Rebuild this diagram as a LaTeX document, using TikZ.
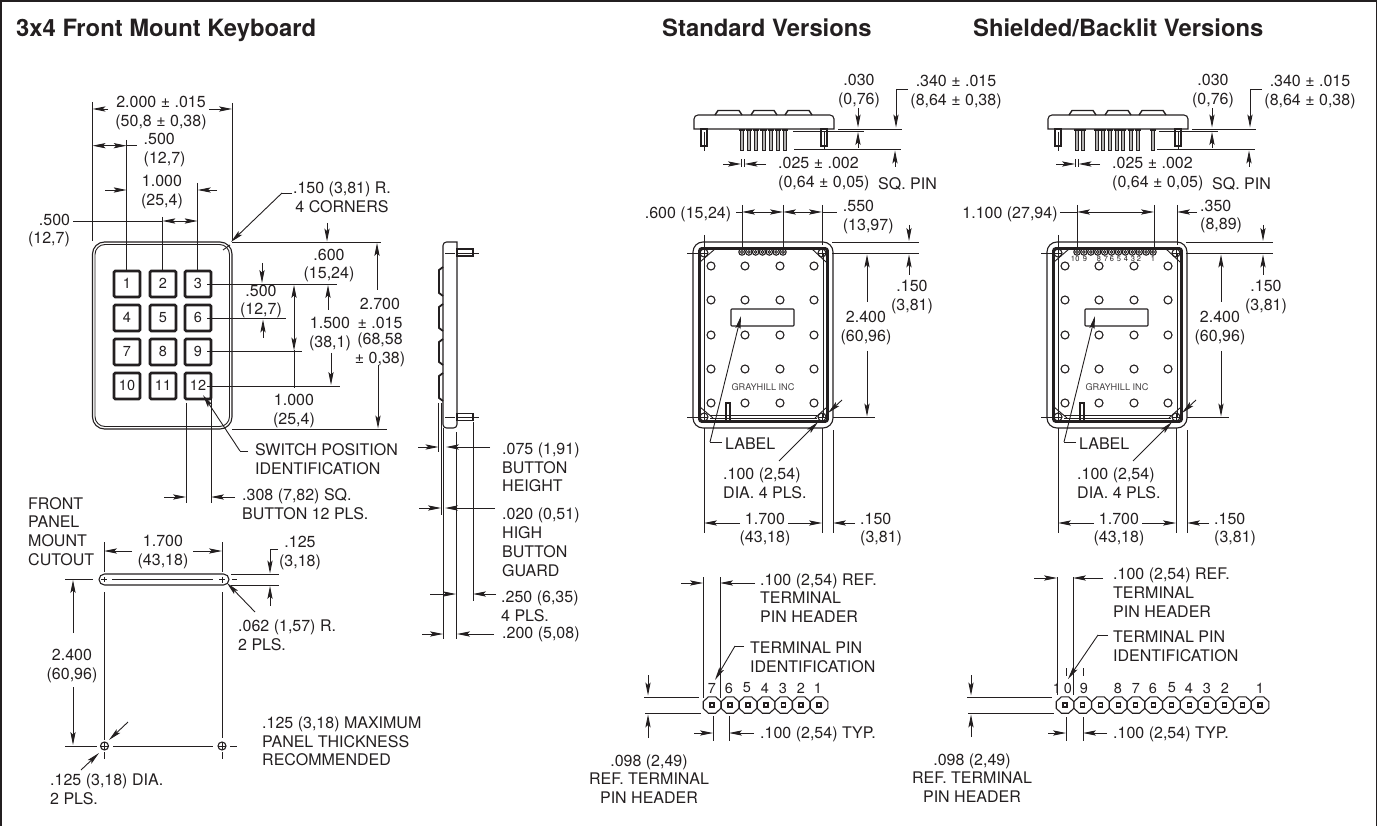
\documentclass[tikz,border=0pt]{standalone}
\usepackage{fontspec}
\setmainfont{TeX Gyre Heros}
\usetikzlibrary{arrows.meta}
\definecolor{inkblack}{HTML}{231F20}
\tikzset{
  dimtext/.style={font=\fontsize{16}{18.8}\selectfont, align=center, inner sep=0pt, text=inkblack, yshift=-1.5pt},
  dimleft/.style={dimtext, align=left, anchor=west},
  digit/.style={font=\fontsize{14.5}{16}\selectfont, inner sep=0pt, text=inkblack},
  headline/.style={font=\fontsize{23.8}{26}\bfseries, anchor=base west, inner sep=0pt, text=inkblack},
  extline/.style={line width=.9pt, draw=inkblack},
  dimarrow/.style={extline, -{Stealth[length=13pt,width=5.2pt,inset=2.5pt]}},
  dimboth/.style={extline, {Stealth[length=13pt,width=5.2pt,inset=2.5pt]}-{Stealth[length=13pt,width=5.2pt,inset=2.5pt]}},
  panelline/.style={line width=1.1pt, draw=inkblack},
  thickline/.style={line width=2.6pt, draw=inkblack}
}
\begin{document}
\begin{tikzpicture}[x=1pt,y=-1pt]
  \useasboundingbox (0,0) rectangle (1377,826);
  %----- helpers -----
  \def\keycap#1#2#3{ % (left, top, number)
    \draw[thickline,rounded corners=1.2pt] (#1,#2) rectangle ++(26,26);
    \node[digit] (key#3) at (#1+13,#2+12.5) {#3};
  }
  \def\screw#1#2{ % corner screw with cross
    \draw[panelline] (#1,#2) circle (4);
    \draw[extline] (#1-4,#2) -- (#1+4,#2) (#1,#2-4) -- (#1,#2+4);
  }
  \def\pinpad#1{ % octagon pad with square pin
    \draw[panelline] (#1-3.6,696.8) -- (#1+3.6,696.8) -- (#1+8.8,701.6) -- (#1+8.8,708.4)
      -- (#1+3.6,713.2) -- (#1-3.6,713.2) -- (#1-8.8,708.4) -- (#1-8.8,701.6) -- cycle;
    \draw[panelline] (#1-2,703) rectangle (#1+2,707);
  }
  %----- edge view, same in both versions -----
  \def\topview#1{
    \draw[panelline] (694,129) [rounded corners=4pt] -- (694,115) -- (834,115) [sharp corners] -- (834,129) -- cycle;
    \foreach \a/\b in {715/742,751/777,785/812}
      \draw[line width=1.4pt,draw=inkblack] (\a,115) -- (\a+3,110.5) -- (\b-3,110.5) -- (\b,115);
    \draw[panelline] (701,129) rectangle (707,146) (821,129) rectangle (827,146);
    \draw[extline] (704,132) -- (704,151) (824,132) -- (824,150);
    \draw[extline] (838,129) -- (902,129);
    \draw[dimarrow] (858,108) -- (858,127.5);
    \draw[dimarrow] (858,148) -- (858,132);
    \draw[extline] (908,89) -- (896,89);
    \draw[dimarrow] (896,89) -- (896,127.5);
    \draw[dimarrow] (895,167) -- (895,150.5);
    \node[dimtext] (#1thin) at (859,89.5) {.030\\(0,76)};
    \node[dimtext] (#1deep) at (956,90.5) {.340 ± .015\\(8,64 ± 0,38)};
  }
  %----- rear view, same in both versions -----
  \def\backview#1{
    \draw[panelline,rounded corners=10pt] (693,242) rectangle (833,428);
    \draw[thickline,rounded corners=2pt] (699.5,248.5) rectangle (827.5,421.5);
    \draw[extline] (704,253) -- (704,417) (823,253) -- (823,417);
    \draw[extline] (710,415) -- (817,415) (710,418) -- (817,418);
    \draw[extline] (700,262) -- (715,249) (812,249) -- (826,262) (700,407) -- (713,418) (815,418) -- (827,407);
    \screw{704}{253} \screw{822}{253} \screw{704}{417} \screw{822}{417}
    \foreach \hx in {711,745,780,814}
      \foreach \hy in {266,300,335,369,403}
        \draw[panelline] (\hx,\hy) circle (4);
    \draw[panelline,rounded corners=.8pt] (731,309) rectangle (794,326);
    \draw[panelline] (726,403) rectangle (730,421);
    \node[font=\fontsize{9.2}{10}\selectfont,inner sep=0pt,text=inkblack!85] (#1brand) at (763,387) {GRAYHILL INC};
    % ticks and extension lines
    \draw[extline] (704,235) -- (704,249) (687,253) -- (699,253) (687,417) -- (700,417);
    \draw[extline] (704,428) -- (704,533) (822,428) -- (822,533) (833,430) -- (833,533);
    \draw[extline] (832,242) -- (919,242) (832,253) -- (919,253) (833,417) -- (875,417);
    \draw[dimarrow] (909,225) -- (909,241);
    \draw[dimarrow] (909,275) -- (909,254.5);
    \node[dimtext] (#1edge) at (912,295.5) {.150\\(3,81)};
    \draw[dimarrow] (867,302) -- (867,254.5);
    \draw[dimarrow] (867,351) -- (867,416.5);
    \node[dimtext] (#1high) at (866,326.5) {2.400\\(60,96)};
    % leaders
    \draw[extline] (722,442) -- (710,442);
    \draw[dimarrow] (710,442) -- (741,316);
    \node[dimleft] (#1label) at (725,442) {LABEL};
    \draw[dimarrow] (842,400) -- (828,413);
    \draw[dimarrow] (779,461) -- (818,422);
    \node[dimleft] (#1hole) at (723,482) {.100 (2,54)\\DIA. 4 PLS.};
    % lower widths
    \draw[dimarrow] (740,523) -- (704,523);
    \draw[dimarrow] (788,523) -- (822,523);
    \draw[dimarrow] (855,523) -- (833,523);
    \node[dimtext] (#1wide) at (765,528) {1.700\\(43,18)};
    \node[dimleft] (#1side) at (860,528) {.150\\(3,81)};
  }
  %----- frame and headings -----
  \draw[line width=2.4pt,draw=inkblack] (0,1) -- (1377,1) (1,0) -- (1,826);
  \draw[extline] (1376.3,0) -- (1376.3,826);
  \node[headline] (titleA) at (16,36.7) {3x4 Front Mount Keyboard};
  \node[headline] (titleB) at (662,36.7) {Standard Versions};
  \node[headline] (titleC) at (973,36.7) {Shielded/Backlit Versions};

  %----- front of keyboard -----
  \draw[panelline,rounded corners=12pt] (92.5,242) rectangle (232,429);
  \draw[extline,rounded corners=10pt] (95,244.5) rectangle (229.5,426.5);
  \keycap{114}{271}{1} \keycap{150}{271}{2} \keycap{185}{271}{3}
  \keycap{114}{305}{4} \keycap{150}{305}{5} \keycap{185}{305}{6}
  \keycap{114}{339}{7} \keycap{150}{339}{8} \keycap{185}{339}{9}
  \keycap{114}{373}{10} \keycap{150}{373}{11} \keycap{185}{373}{12}
  \draw[extline] (223,250) -- (230,245);
  % widths above
  \draw[extline] (92.5,102) -- (92.5,241) (232,103) -- (232,240);
  \draw[extline] (126.7,140) -- (126.7,271) (162.3,217) -- (162.3,271) (197.7,183) -- (197.7,271);
  \draw[dimarrow] (108,109) -- (92.5,109);
  \draw[dimarrow] (209,109) -- (232,109);
  \node[dimtext] (wdAll) at (161,111.5) {2.000 ± .015\\(50,8 ± 0,38)};
  \draw[dimboth] (92.5,145.7) -- (126.7,145.7);
  \draw[extline] (126.7,145.7) -- (137,145.7);
  \node[dimleft] (wdLeft) at (143.5,148.5) {.500\\(12,7)};
  \draw[dimarrow] (105,190) -- (126.7,190);
  \draw[dimarrow] (217,190) -- (197.7,190);
  \node[dimtext] (wdKeys) at (162,190.5) {1.000\\(25,4)};
  \draw[extline] (73,221) -- (162.3,221);
  \draw[dimboth] (162.3,221) -- (197.7,221);
  \node[dimtext] (wdPitch) at (49,229) {\hspace*{11pt}.500\\(12,7)};
  \draw[extline] (292,193) -- (282,193);
  \draw[dimarrow] (282,193) -- (231,242);
  \node[dimtext] (cornerR) at (342,195.5) {.150 (3,81) R.\\4 CORNERS};
  % heights at right
  \draw[extline] (232,242.3) -- (381,242.3) (232,429) -- (387,429);
  \draw[extline] (207,284) -- (337,284) (207,318) -- (286,318) (207,351) -- (302,351) (207,386) -- (340,386);
  \draw[dimarrow] (327,223) -- (327,241.5);
  \draw[dimarrow] (328,310) -- (328,285);
  \node[dimtext] (htTop) at (329,264) {.600\\(15,24)};
  \draw[dimarrow] (262,263) -- (262,283);
  \draw[dimarrow] (263,338) -- (263,319.5);
  \node[dimtext] (htPitch) at (261,300) {.500\\(12,7)};
  \draw[extline] (294,350) -- (294,388);
  \draw[dimarrow] (294,330) -- (294,285);
  \draw[dimarrow] (294,305) -- (294,350.5);
  \node[dimtext] (htThree) at (294,409.5) {1.000\\(25,4)};
  \draw[dimarrow] (331,353) -- (331,385);
  \node[dimtext] (htRows) at (330,332.5) {1.500\\(38,1)};
  \draw[dimarrow] (377,290) -- (377,243);
  \draw[dimarrow] (378,365) -- (378,428.5);
  \node[dimtext] (htAll) at (380,331) {2.700\\± .015\\[-2pt](68,58\\± 0,38)};
  % switch identification and button size
  \draw[extline] (248,451) -- (240,451);
  \draw[dimarrow] (240,451) -- (203,395);
  \node[dimleft] (swId) at (255,457.5) {SWITCH POSITION\\IDENTIFICATION};
  \draw[extline] (186,403) -- (186,503) (211,397) -- (211,503);
  \draw[dimarrow] (164,497) -- (186,497);
  \draw[dimarrow] (235,497) -- (211,497);
  \node[dimleft] (btnSq) at (242,502.5) {.308 (7,82) SQ.\\BUTTON 12 PLS.};

  %----- panel cutout -----
  \node[dimleft] (cutName) at (28,530) {FRONT\\PANEL\\MOUNT\\CUTOUT};
  \draw[extline] (104,542) -- (104,572) (222,542) -- (222,572);
  \draw[dimarrow] (132,551) -- (104,551);
  \draw[dimarrow] (193,551) -- (222,551);
  \node[dimtext] (cutWide) at (163,550.5) {1.700\\(43,18)};
  \draw[panelline,rounded corners=5.5pt] (99,574) rectangle (229,585);
  \draw[extline] (101,579.5) -- (107,579.5) (104,577) -- (104,582) (219,579.5) -- (225,579.5) (222,576.5) -- (222,582.5);
  \draw[extline] (112,579.5) -- (213,579.5) (232,579.5) -- (237,579.5);
  \draw[extline] (231,574) -- (279,574) (231,585) -- (279,585);
  \draw[extline] (278,549) -- (270,549);
  \draw[dimarrow] (270,549) -- (270,573.5);
  \draw[dimarrow] (270,606) -- (270,586);
  \node[dimtext] (cutSlot) at (300,551.5) {.125\\(3,18)};
  \draw[dimarrow] (255,612) -- (227,583);
  \node[dimleft] (cutRad) at (238,633.5) {.062 (1,57) R.\\2 PLS.};
  \draw[extline] (65,579) -- (93,579) (65,746) -- (97,746);
  \draw[dimarrow] (73,633) -- (73,580);
  \draw[dimarrow] (73,687) -- (73,745);
  \node[dimtext] (cutHigh) at (72,664.5) {2.400\\(60,96)};
  \draw[extline] (104.5,592) -- (104.5,740) (222,592) -- (222,738);
  \screw{104.5}{746} \screw{222}{746}
  \draw[extline] (113,746) -- (213,746) (230,746) -- (237,746) (104.5,752) -- (104.5,759) (222,752) -- (222,759);
  \draw[dimarrow] (128,722) -- (109,740);
  \draw[dimarrow] (81,770) -- (99,753);
  \node[dimleft] (cutHole) at (50,788) {.125 (3,18) DIA.\\2 PLS.};
  \node[dimleft] (cutThick) at (262,740) {.125 (3,18) MAXIMUM\\PANEL THICKNESS\\RECOMMENDED};

  %----- side view -----
  \draw[panelline] (457,242) [rounded corners=3.5pt] -- (443,242) -- (443,428) -- (457,428) [sharp corners] -- cycle;
  \foreach \a/\b in {267/296,304/331,339/365,373/401}
    \draw[line width=1.8pt,draw=inkblack] (443,\a) -- (439,\a+3) -- (439,\b-3) -- (443,\b);
  \draw[panelline] (457,249) rectangle (473,256) (457,413.5) rectangle (473,420.5);
  \draw[extline] (445,253) -- (455,253) (458,253) -- (479,253) (445,417) -- (455,417) (458,417) -- (479,417);
  \draw[extline] (438.7,403) -- (438.7,452) (441,403) -- (441,515) (443.5,428) -- (443.5,639) (456.3,432) -- (456.3,639) (473,422) -- (473,601);
  \draw[dimarrow] (418,447) -- (438.5,447);
  \draw[dimarrow] (490,447) -- (446,447);
  \draw[dimarrow] (419,508) -- (441,508);
  \draw[dimarrow] (495,508) -- (445,508);
  \draw[dimarrow] (430,594) -- (456,594);
  \draw[dimarrow] (496,594) -- (473,594);
  \draw[dimarrow] (422,634) -- (443,634);
  \draw[dimarrow] (494,634) -- (457,634);
  \node[dimleft] (sideBtn) at (502,466) {.075 (1,91)\\BUTTON\\HEIGHT};
  \node[dimleft] (sideGuard) at (502,541) {.020 (0,51)\\HIGH\\BUTTON\\GUARD};
  \node[dimleft] (sidePin) at (501,604.5) {.250 (6,35)\\4 PLS.};
  \node[dimleft] (sideBody) at (502,633) {.200 (5,08)};

  %----- standard versions -----
  \topview{std}
  \foreach \x in {742,749,756,763.5,771,778,785} {
    \draw[extline,fill=inkblack!35] (\x-1.5,129) rectangle (\x+1.5,150);
    \draw[line width=1.6pt,draw=inkblack] (\x-3.2,130) -- (\x+3.2,130);
  }
  \draw[extline] (793,131) -- (864,131) (794,149) -- (901,149);
  \draw[extline] (741,159) -- (741,167) (744,159) -- (744,167);
  \draw[dimarrow] (723,164) -- (741,164);
  \draw[dimarrow] (766,164) -- (744.5,164);
  \node[dimleft] (stdPin) at (778,172.5) {.025 ± .002\\(0,64 ± 0,05)};
  \node[dimleft] (stdSq) at (878,182) {SQ. PIN};
  \backview{std}
  \foreach \i in {0,...,6} {
    \draw[panelline] (742+6.83*\i,252) circle (3.2);
    \draw[extline] (742+6.83*\i,252) circle (1.4);
  }
  \draw[extline] (742,205) -- (742,248) (783,205) -- (783,248) (822,205) -- (822,245);
  \draw[extline] (736,212) -- (742,212) (822,212) -- (837,212);
  \draw[dimboth] (742,212) -- (783,212);
  \draw[dimboth] (783,212) -- (822,212);
  \node[dimtext] (stdPads) at (688,213) {.600 (15,24)};
  \node[dimleft] (stdOff) at (842.7,215.5) {.550\\(13,97)};
  % terminal header
  \draw[extline] (703,577) -- (703,698) (720,577) -- (720,698);
  \draw[dimarrow] (681,583) -- (703,583);
  \draw[dimarrow] (755,583) -- (720,583);
  \node[dimleft] (stdRef) at (760,596.5) {.100 (2,54) REF.\\TERMINAL\\PIN HEADER};
  \draw[extline] (744,646) -- (735,646);
  \draw[dimarrow] (735,646) -- (715,680);
  \node[dimleft] (stdIdent) at (750,656) {TERMINAL PIN\\IDENTIFICATION};
  \foreach \x [count=\n] in {712,730,748,766,783.7,801,819} { \pinpad{\x} }
  \foreach \x/\t [count=\n] in {712/7,729/6,747/5,765/4,783/3,801/2,818/1}
    \node[digit] (stdNum\n) at (\x,688) {\t};
  \draw[extline] (644,697) -- (699,697) (645,713) -- (701,713);
  \draw[dimarrow] (648,675) -- (648,695.5);
  \draw[dimarrow] (648,738) -- (648,714.5);
  \draw[extline] (713,716) -- (713,741) (729,716) -- (729,741);
  \draw[dimarrow] (694,733) -- (713,733);
  \draw[dimarrow] (754,733) -- (729,733);
  \node[dimleft] (stdTyp) at (760,733) {.100 (2,54) TYP.};
  \node[dimtext] (stdRow) at (649,777.5) {.098 (2,49)\\REF. TERMINAL\\PIN HEADER};

  %----- shielded versions -----
  \begin{scope}[shift={(354,0)}]
    \topview{shd}
    \backview{shd}
  \end{scope}
  \foreach \x in {1077,1083,1097,1103,1110,1117,1123,1131,1138,1153} {
    \draw[extline,fill=inkblack!35] (\x-1.5,129) rectangle (\x+1.5,150);
    \draw[line width=1.6pt,draw=inkblack] (\x-3.2,130) -- (\x+3.2,130);
  }
  \draw[extline] (1159,131) -- (1218,131) (1157,149) -- (1255,149);
  \draw[extline] (1075,159) -- (1075,167) (1078,159) -- (1078,167);
  \draw[dimarrow] (1056,164) -- (1075,164);
  \draw[dimarrow] (1100,164) -- (1078.5,164);
  \node[dimleft] (shdPin) at (1112,172.5) {.025 ± .002\\(0,64 ± 0,05)};
  \node[dimleft] (shdSq) at (1212,182) {SQ. PIN};
  \foreach \i in {0,...,11} {
    \draw[panelline] (1077+6.91*\i,252) circle (3.2);
    \draw[extline] (1077+6.91*\i,252) circle (1.4);
  }
  \foreach \x/\t [count=\n] in {1073/1,1077.5/0,1085/9,1099/8,1106/7,1112/6,1119/5,1126/4,1133/3,1139/2,1153/1}
    \node[font=\fontsize{7.5}{8}\selectfont,inner sep=0pt,text=inkblack] (shdTiny\n) at (\x,259) {\t};
  \draw[extline] (1077,205) -- (1077,248) (1154,205) -- (1154,248) (1177,205) -- (1177,245);
  \draw[extline] (1060,212) -- (1077,212);
  \draw[dimboth] (1077,212) -- (1154,212);
  \draw[dimarrow] (1197,212) -- (1177,212);
  \node[dimtext] (shdPads) at (1010,213) {1.100 (27,94)};
  \node[dimleft] (shdOff) at (1200,215) {.350\\(8,89)};
  % terminal header
  \draw[extline] (1057,577) -- (1057,695) (1073,577) -- (1073,695);
  \draw[dimarrow] (1034,578) -- (1057,578);
  \draw[dimarrow] (1103,578) -- (1073,578);
  \node[dimleft] (shdRef) at (1113,591) {.100 (2,54) REF.\\TERMINAL\\PIN HEADER};
  \draw[extline] (1108,635) -- (1098,635);
  \draw[dimarrow] (1098,635) -- (1068,679);
  \node[dimleft] (shdIdent) at (1113,644.5) {TERMINAL PIN\\IDENTIFICATION};
  \draw[extline] (1066,668) -- (1066,676) (1083,668) -- (1083,676);
  \foreach \i in {0,...,11} { \pgfmathsetmacro{\px}{1065+17.73*\i} \pinpad{\px} }
  \foreach \x/\t [count=\n] in {1057/1,1068/0,1084/9,1118/8,1136/7,1153/6,1172/5,1189/4,1207/3,1225/2,1260/1}
    \node[digit] (shdNum\n) at (\x,688) {\t};
  \draw[extline] (967,697) -- (1052,697) (968,713) -- (1054,713);
  \draw[dimarrow] (971,675) -- (971,695.5);
  \draw[dimarrow] (971,737) -- (971,714.5);
  \draw[extline] (1066,717) -- (1066,741) (1083,717) -- (1083,741);
  \draw[dimarrow] (1048,733) -- (1066,733);
  \draw[dimarrow] (1107,733) -- (1083,733);
  \node[dimleft] (shdTyp) at (1113,733) {.100 (2,54) TYP.};
  \node[dimtext] (shdRow) at (972,776.5) {.098 (2,49)\\REF. TERMINAL\\PIN HEADER};
\end{tikzpicture}
\end{document}
